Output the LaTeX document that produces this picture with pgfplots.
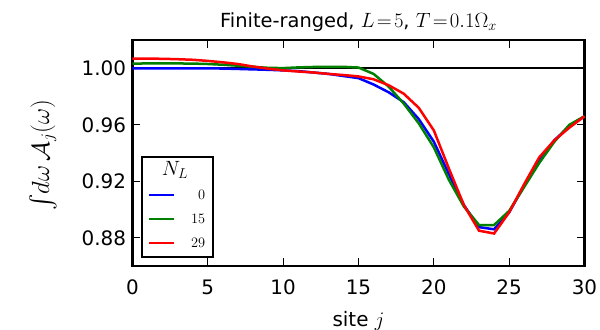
\documentclass[border=0pt]{standalone}
\usepackage{fontspec}
\setmainfont{DejaVu Sans}
\usepackage{exscale}
\usepackage{pgfplots}
\pgfplotsset{compat=1.18}

% integrated spectral weight per site, one column per N_L
\pgfplotstableread{
j  n0      n15     n29
0  1.0000  1.0033  1.0068
1  1.0000  1.0034  1.0068
2  1.0000  1.0034  1.0067
3  1.0000  1.0034  1.0064
4  1.0000  1.0033  1.0060
5  0.9999  1.0030  1.0052
6  0.9998  1.0025  1.0042
7  0.9995  1.0018  1.0030
8  0.9992  1.0010  1.0012
9  0.9989  1.0003  0.9997
10 0.9985  1.0001  0.9985
11 0.9980  1.0006  0.9977
12 0.9970  1.0009  0.9970
13 0.9960  1.0010  0.9960
14 0.9945  1.0010  0.9952
15 0.9930  1.0005  0.9942
16 0.9885  0.9960  0.9922
17 0.9830  0.9870  0.9880
18 0.9760  0.9750  0.9820
19 0.9640  0.9610  0.9720
20 0.9480  0.9440  0.9560
21 0.9250  0.9210  0.9290
22 0.9030  0.9020  0.9030
23 0.8875  0.8890  0.8850
24 0.8860  0.8890  0.8830
25 0.8980  0.8990  0.8980
26 0.9170  0.9160  0.9180
27 0.9350  0.9330  0.9370
28 0.9490  0.9480  0.9490
29 0.9590  0.9600  0.9580
30 0.9660  0.9660  0.9660
}\sitedata

\definecolor{mplblue}{RGB}{0,0,255}
\definecolor{mplgreen}{RGB}{0,128,0}
\definecolor{mplred}{RGB}{255,0,0}

\newcommand{\legfont}{\fontsize{14.5}{17}\selectfont}

\begin{document}
\begin{tikzpicture}
\useasboundingbox (-132.5bp,-64bp) rectangle (467.5bp,266bp);
\begin{axis}[
  at={(0,0)}, anchor=south west,
  scale only axis, width=452bp, height=226bp,
  xmin=0, xmax=30, ymin=0.86, ymax=1.02,
  xtick={0,5,...,30},
  ytick={0.88,0.92,0.96,1.00},
  y tick label style={xshift=-3bp, /pgf/number format/.cd, fixed, fixed zerofill, precision=2},
  /pgf/number format/assume math mode=true,
  tick label style={font=\fontsize{20}{24}\selectfont},
  x tick label style={yshift=-10bp},
  axis line style={line width=2.2bp},
  major tick length=8bp,
  tick style={line width=1.1bp, black},
  xlabel={site $j$},
  xlabel style={font=\fontsize{20}{24}\selectfont, yshift=-10bp},
  ylabel={$\int\! d\omega\, \mathcal{A}_j(\omega)$},
  ylabel style={font=\fontsize{24}{28}\selectfont,
    at={(axis description cs:-0.198,0.49)}, anchor=center},
  legend cell align=right,
  legend image code/.code={\draw[#1] (0bp,0bp) -- (25bp,0bp);},
  legend style={at={(0.018,0.035)}, anchor=south west, draw=black,
    line width=2bp,
    inner xsep=6bp, inner ysep=5bp, row sep=6bp,
    nodes={inner sep=2bp, text height=11bp, text depth=3bp},
    /tikz/every odd column/.append style={column sep=14bp}},
  clip=false,
]
\addplot[black, line width=2bp, forget plot] coordinates {(0,1) (30,1)};
\addlegendimage{empty legend}
\addlegendentry{\makebox[0pt][r]{\fontsize{22}{24}\selectfont$N_L$\kern17bp}}
\addplot[mplblue, line width=2.5bp] table[x=j, y=n0] {\sitedata};
\addlegendentry{\legfont$0$}
\addplot[mplgreen, line width=2.5bp] table[x=j, y=n15] {\sitedata};
\addlegendentry{\legfont$15$}
\addplot[mplred, line width=2.5bp] table[x=j, y=n29] {\sitedata};
\addlegendentry{\legfont$29$}
\node[font=\fontsize{19.5}{22}\selectfont, anchor=base] at (rel axis cs:0.5,1.0) [yshift=13bp]
  {Finite-ranged, $L\!=\!5$, $T\!=\!0.1\Omega_x$};
\end{axis}
\end{tikzpicture}
\end{document}
